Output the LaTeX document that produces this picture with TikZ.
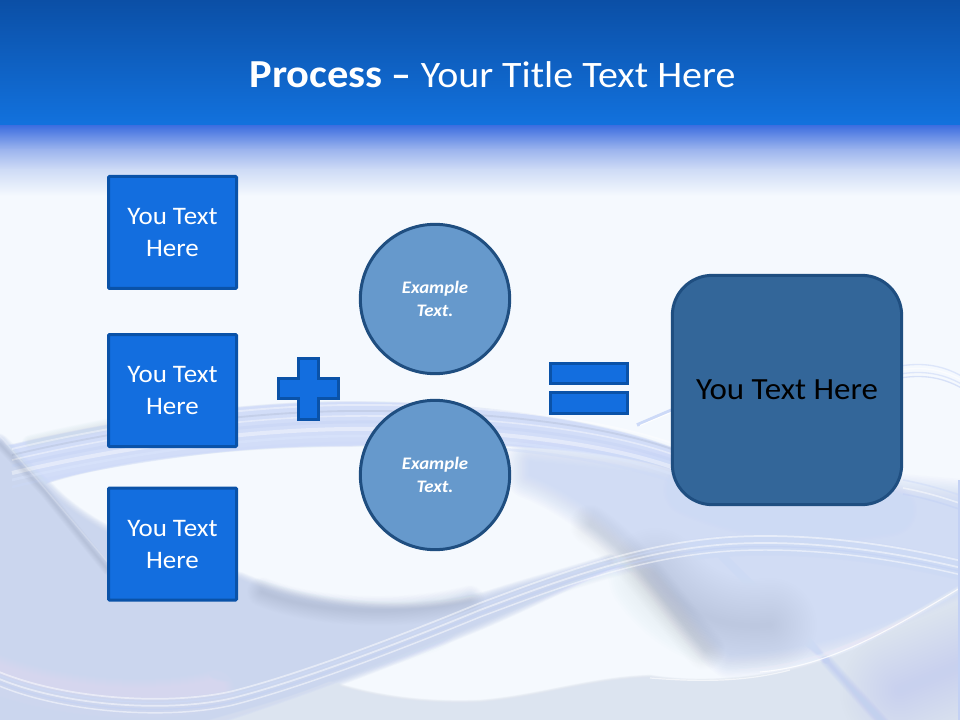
\documentclass[tikz,border=0pt]{standalone}
\usepackage{fontspec}
\setmainfont[FakeStretch=1.07]{Carlito}
\usetikzlibrary{shapes.misc,calc}
\definecolor{pagebg}{HTML}{F5F9FE}
\definecolor{barTop}{HTML}{0B4FA6}
\definecolor{barBot}{HTML}{1272DE}
\definecolor{fadeA}{HTML}{4070E0}
\definecolor{fadeB}{HTML}{9DB5EE}
\definecolor{fadeC}{HTML}{CFDCF6}
\definecolor{lavL}{HTML}{C4D1EE}
\definecolor{lavR}{HTML}{C3D1F4}
\definecolor{lavB}{HTML}{CDDAF8}
\definecolor{greyB}{HTML}{DCE4F0}
\definecolor{greyS}{HTML}{B0BCD4}
\definecolor{glow}{HTML}{DCE7FD}
\definecolor{boxfill}{HTML}{136EDF}
\definecolor{boxline}{HTML}{0A52A8}
\definecolor{circfill}{HTML}{6699CC}
\definecolor{circline}{HTML}{1F4E80}
\definecolor{rrfill}{HTML}{336699}
\tikzset{
  x=0.75pt,y=-0.75pt,
  bluebox/.style={draw=boxline,line width=2.25pt,fill=boxfill,rounded corners=0.8pt,
    minimum width=96pt,minimum height=84pt,inner sep=0pt,text=white,
    align=center,font=\fontsize{18.9}{24}\selectfont},
  bubble/.style={circle,draw=circline,line width=2.25pt,fill=circfill,minimum size=112pt,inner sep=0pt,
    text=white,align=center,font=\fontsize{13.2}{17.2}\selectfont\bfseries\itshape},
  sym/.style={draw=boxline,line width=2.25pt,fill=boxfill},
  resultbox/.style={draw=circline,line width=2.25pt,fill=rrfill,rounded corners=30pt,
    minimum width=172pt,minimum height=172pt,inner sep=0pt,text=black,font=\fontsize{23.1}{27}\selectfont},
  halo/.style={line cap=round,line join=round}
}
% soft stroke: colour, pass alpha, max width (number, pt), path
\newcommand{\softline}[4]{%
  \foreach \sw in {1,.95,.9,.85,.8,.75,.7,.65,.6,.55,.5,.45,.4,.35,.3,.25,.2,.15,.1,.05}{%
    \draw[halo,draw=#1,opacity=#2,line width=\sw*#3pt] #4;}}
% soft-edged area: colour, pass alpha, max edge blur (number, pt), path
\newcommand{\softarea}[4]{%
  \foreach \sw in {1,.93,.86,.8,.73,.66,.6,.53,.46,.4,.33,.26,.2,.13,.06,.01}{%
    \begin{scope}[transparency group,opacity=#2]
      \filldraw[halo,draw=#1,fill=#1,line width=\sw*#3pt] #4;
    \end{scope}}}
\begin{document}
\begin{tikzpicture}
\useasboundingbox (0,0) rectangle (960,720);
\clip (0,0) rectangle (960,720);
\fill[pagebg] (0,0) rectangle (960,720);
% left mass, tapering along the swoosh
\softarea{lavL}{.09}{12}{(-30,432) -- (0,442) .. controls (20,462) and (35,478) .. (48,490)
  .. controls (90,535) and (170,565) .. (240,580)
  .. controls (300,606) and (400,622) .. (490,598)
  .. controls (530,585) and (570,575) .. (610,562)
  .. controls (560,585) and (520,605) .. (480,622) .. controls (400,655) and (300,695) .. (170,735) -- (-30,735) -- cycle}
% right mass
\softarea{lavR}{.06}{36}{(530,462) .. controls (620,470) and (800,490) .. (985,505)
  -- (985,578) .. controls (900,620) and (820,650) .. (730,654)
  .. controls (700,630) and (675,585) .. (650,560)
  .. controls (615,525) and (570,490) .. (530,475) -- cycle}
% grey in the right mass
\softline{greyS}{.015}{70}{(655,575) .. controls (680,610) and (720,630) .. (770,625)}
\softline{greyS}{.012}{30}{(590,525) .. controls (640,560) and (670,610) .. (705,650)}
% bottom right mass
\softarea{greyB}{.1}{5}{(330,684) .. controls (380,700) and (430,705) .. (480,703)
  .. controls (540,698) and (590,680) .. (650,678)
  .. controls (710,688) and (800,680) .. (880,640)
  .. controls (910,625) and (945,605) .. (985,585)
  -- (985,735) -- (170,735) .. controls (230,715) and (280,705) .. (330,684) -- cycle}
\softline{lavL}{.03}{90}{(900,690) -- (1000,650)}
% shadow along bottom of white blob
\softline{greyS}{.018}{22}{(262,592) .. controls (310,612) and (400,618) .. (470,600)}
% glow bands lower left
\softline{glow}{.03}{30}{(-20,622) .. controls (90,660) and (190,665) .. (280,640)}
\softline{lavB}{.03}{40}{(120,640) .. controls (220,670) and (320,665) .. (430,625)}
\softline{white}{.025}{30}{(-20,668) .. controls (60,702) and (160,705) .. (215,690)}
\softline{lavB}{.03}{18}{(220,670) .. controls (300,660) and (400,625) .. (470,603)}
% right glow
\softline{lavB}{.03}{40}{(690,490) .. controls (760,520) and (830,520) .. (890,510)}
\softline{white}{.04}{5}{(590,446) -- (610,441)}
% upper band
\softline{greyS}{.015}{12}{(30,443) .. controls (60,436) and (90,430) .. (120,424)}
\softarea{lavB}{.09}{3}{(8,447) .. controls (100,425) and (230,403) .. (350,403)
  .. controls (470,403) and (600,420) .. (680,452) -- (680,470)
  .. controls (600,445) and (480,440) .. (350,445)
  .. controls (230,445) and (110,460) .. (40,484) -- cycle}
\foreach \o/\c/\w in {0/white/1.4,6/greyS/1.4,11/white/1.2,17/lavR/2.2,24/white/3,31/glow/2,38/lavB/2}{
  \draw[draw=\c,opacity=.4,line width=\w pt]
   (12,{449+\o}) .. controls (100,{428+\o}) and (230,{406+\o}) .. (350,{405+\o})
   .. controls (470,{404+\o}) and (600,{416+\o}) .. (680,{446+\o});}
\foreach \o/\c in {0/lavB,8/white,14/lavR}{
  \draw[draw=\c,opacity=.5,line width=1.2pt] (903,{480+\o}) .. controls (925,{484+\o}) and (945,{490+\o}) .. (965,{497+\o});}
% diagonals
\softline{greyS}{.012}{8}{(0,444) -- (45,492) -- (108,570)}
\draw[draw=white,opacity=.2,line width=1pt] (0,436) -- (110,565);
\softline{lavB}{.05}{6}{(722,556) -- (826,660)}
\softline{lavR}{.05}{9}{(826,660) -- (885,725)}
% main swoosh
\softline{lavB}{.035}{16}{(-10,680) .. controls (60,710) and (170,715) .. (233,700) .. controls (300,683) and (400,645) .. (480,612) .. controls (560,582) and (640,552) .. (730,546) .. controls (800,542) and (880,550) .. (970,572)}
\foreach \o/\c/\w in {0/white/1.3,3.5/lavB/1.1,7/white/1.3,10.5/lavR/1.1,14/white/1.1}{
  \draw[draw=\c,opacity=.5,line width=\w pt]
   (-10,{668+\o}) .. controls (60,{700+\o}) and (170,{706+\o}) .. (233,{691+\o})
   .. controls (300,{674+\o}) and (400,{636+\o}) .. (480,{603+\o})
   .. controls (560,{573+\o}) and (640,{543+\o}) .. (730,{537+\o})
   .. controls (800,{533+\o}) and (880,{541+\o}) .. (970,{563+\o});}
% bright right curve
\softline{white}{.04}{5}{(740,672) .. controls (820,668) and (890,630) .. (965,585)}
\draw[draw=white,line width=.8pt,opacity=.8] (760,672) .. controls (830,666) and (890,630) .. (965,585);
\draw[draw=white,line width=.9pt,opacity=.6] (650,678) .. controls (700,682) and (745,682) .. (790,670);
% streak behind the big box and arcs at the right
\draw[draw=lavB,line width=2.6pt] (637,425) -- (672,410);
\draw[draw=white,line width=.8pt] (640,425.5) -- (672,412);
\foreach \o/\c in {0/lavB,4/white,8/lavB,12/lavR}{
  \draw[draw=\c,line width=1pt,opacity=.6] (900,{366+\o}) .. controls (925,{362+\o}) and (945,{366+\o}) .. (965,{378+\o});}
\fill[lavR] (958,480) rectangle (960,720);
% top bar and fade
\shade[top color=barTop,bottom color=barBot] (0,0) rectangle (960,126);
\shade[top color=fadeA,bottom color=fadeB] (0,126) rectangle (960,150);
\shade[top color=fadeB,bottom color=fadeC] (0,150) rectangle (960,170);
\shade[top color=fadeC,bottom color=pagebg] (0,170) rectangle (960,196);
% title
\node[text=white,inner sep=0pt,font=\fontsize{28}{33}\selectfont] (title) at (492.5,75) {{\fontsize{29.8}{33}\selectfont\bfseries Process} {\bfseries --} Your Title Text Here};
% left boxes
\node[bluebox] (box1) at (172.5,232.5) {You Text\\Here};
\node[bluebox] (box2) at (172.5,390.5) {You Text\\Here};
\node[bluebox] (box3) at (172.5,544) {You Text\\Here};
% plus
\draw[sym] (298,358) -- (318,358) -- (318,378) -- (338,378) -- (338,398) -- (318,398) -- (318,419) -- (298,419) -- (298,398) -- (278,398) -- (278,378) -- (298,378) -- cycle;
% circles
\node[bubble] (c1) at (435,299) {Example\\Text.};
\node[bubble] (c2) at (435,475) {Example\\Text.};
% equals
\draw[sym] (550,363) rectangle (627,383);
\draw[sym] (550,392) rectangle (627,413);
% result
\node[resultbox] (res) at (787,390) {You Text Here};
\end{tikzpicture}
\end{document}
